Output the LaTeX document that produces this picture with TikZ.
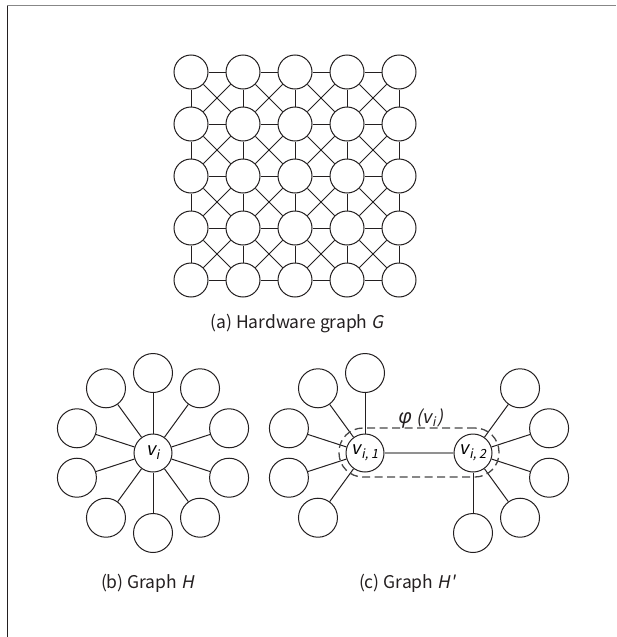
\documentclass[tikz,border=0pt]{standalone}
\usepackage{fontspec}
\setmainfont{Noto Sans CJK SC}[ItalicFont=Noto Sans CJK SC, ItalicFeatures={FakeSlant=0.2}]
% same face without TeX quote ligatures, for a straight prime
\newfontfamily\plainfont{Noto Sans CJK SC}[Ligatures=ResetAll, FakeSlant=0.2]
\newfontfamily\greekfont{Noto Sans}
\definecolor{ink}{RGB}{35,31,32}
\definecolor{framegray}{RGB}{135,135,135}
\definecolor{dashgray}{RGB}{70,70,70}
\definecolor{linkgray}{RGB}{145,145,145}
\usetikzlibrary{calc}
\tikzset{
  gnode/.style={circle, draw=ink, fill=white, line width=1pt, minimum size=34pt, inner sep=0pt},
  snode/.style={circle, draw=ink, fill=white, line width=1pt, minimum size=39pt, inner sep=0pt},
  cnode/.style={circle, draw=ink, fill=white, line width=1pt, minimum size=38pt, inner sep=0pt, font=\fontsize{18}{20}\selectfont\itshape},
  edge/.style={draw=ink, line width=1pt},
  caption/.style={anchor=base, font=\fontsize{17.5}{20}\selectfont, text=ink},
}
\begin{document}
\begin{tikzpicture}[x=1pt, y=-1pt]
\useasboundingbox (0,0) rectangle (616,637);
% frame lines
\coordinate (ftl) at (7,5.5);
\coordinate (ftr) at (616,5.5);
\coordinate (fbl) at (7,637);
\draw[framegray, line width=1pt] (ftl) -- (ftr);
\draw[ink, line width=1pt] (ftl) -- (fbl);

% (a) king's graph, 5 x 5
\foreach \r in {0,...,4}
  \foreach \c in {0,...,4}
    \node[gnode] (g\r\c) at ({191+52*\c},{72+52*\r}) {};
\foreach \r in {0,...,4}
  \foreach \c in {0,...,3} {
    \pgfmathtruncatemacro\n{\c+1}
    \draw[edge] (g\r\c) -- (g\r\n);
    \draw[edge] (g\c\r) -- (g\n\r);
  }
\foreach \r in {0,...,3}
  \foreach \c in {0,...,3} {
    \pgfmathtruncatemacro\nr{\r+1}
    \pgfmathtruncatemacro\nc{\c+1}
    \draw[edge] (g\r\c) -- (g\nr\nc);
    \draw[edge] (g\r\nc) -- (g\nr\c);
  }
\node[caption] (capa) at (297,328) {(a) Hardware graph \textit{G}};

% (b) star graph H
\node[cnode] (hc) at (153,453) {v\kern0.5pt\textsubscript{i}};
\foreach \k in {0,...,9} {
  \node[snode] (h\k) at ($(hc)+({18+36*\k}:80)$) {};
  \draw[edge] (hc) -- (h\k);
}
\node[caption] (capb) at (147.5,588) {(b) Graph \textit{H}};

% (c) graph H' with v_i split into two vertices
\node[cnode] (va) at (365,453) {v\kern0.5pt\textsubscript{i, 1}};
\node[cnode] (vb) at (473,453) {v\kern0.5pt\textsubscript{i, 2}};
\foreach \a [count=\k] in {90,126,162,198,234} {
  \node[snode] (a\k) at ($(va)+({-\a}:80)$) {};
  \draw[edge] (va) -- (a\k);
}
\foreach \a [count=\k] in {54,18,-18,-54,-90} {
  \node[snode] (b\k) at ($(vb)+({-\a}:80)$) {};
  \draw[edge] (vb) -- (b\k);
}
\draw[linkgray, line width=2pt] (va) -- (vb);
\node[draw=dashgray, dash pattern=on 8pt off 4.5pt, line width=1.3pt, rounded corners=24pt,
      minimum width=160pt, minimum height=49pt, inner sep=0pt] (phi) at (419,452.5) {};
\node[anchor=base, font=\fontsize{18}{20}\selectfont\itshape, text=ink] (philabel) at (421,423)
  {{\greekfont\itshape\fontsize{20}{20}\selectfont φ} (v\kern0.5pt\textsubscript{i}\kern1.5pt)};
\node[caption] (capc) at (407,588) {(c) Graph {\plainfont H'}};
\end{tikzpicture}
\end{document}
